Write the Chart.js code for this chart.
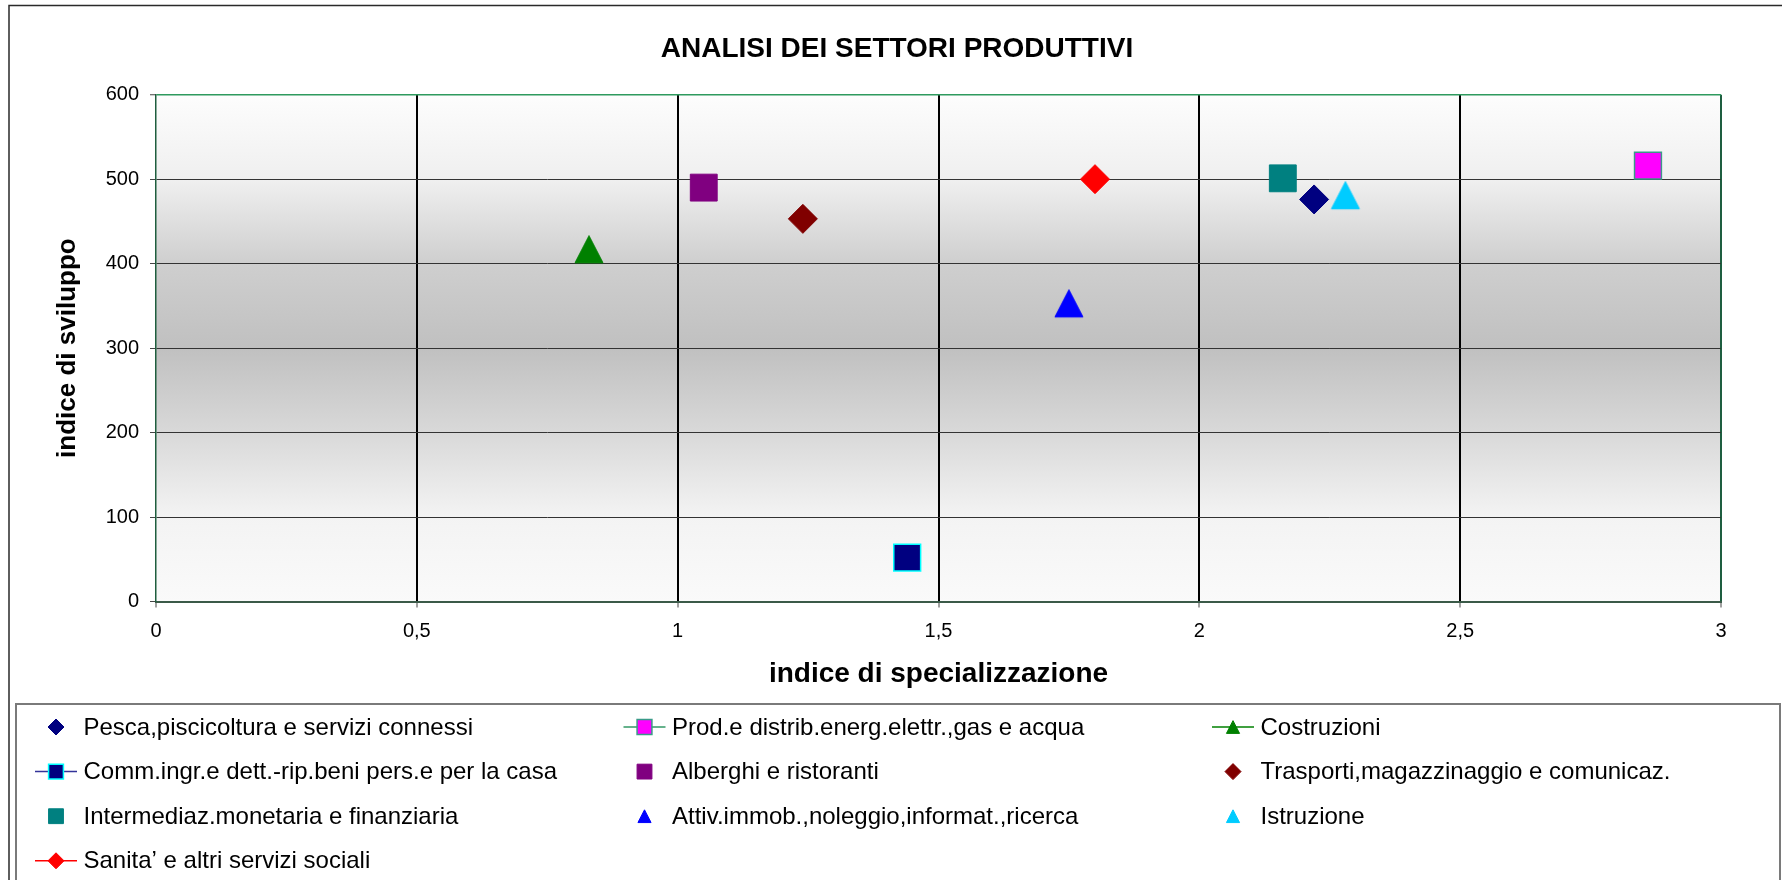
<!DOCTYPE html>
<html><head><meta charset="utf-8">
<script src="https://cdn.jsdelivr.net/npm/chart.js@4/dist/chart.umd.min.js"></script>
<style>html,body{margin:0;padding:0;background:#fff;overflow:hidden}canvas{display:block}</style>
</head><body>
<canvas id="c" width="1782" height="880"></canvas>
<script>
// ---- data ----
const seriesNames = [
  'Pesca,piscicoltura e servizi connessi',
  'Prod.e distrib.energ.elettr.,gas e acqua',
  'Costruzioni',
  'Comm.ingr.e dett.-rip.beni pers.e per la casa',
  'Alberghi e ristoranti',
  'Trasporti,magazzinaggio e comunicaz.',
  'Intermediaz.monetaria e finanziaria',
  'Attiv.immob.,noleggio,informat.,ricerca',
  'Istruzione',
  'Sanita\u2019 e altri servizi sociali'
];
const xValues = [2.22, 2.86, 0.83, 1.44, 1.05, 1.24, 2.16, 1.75, 2.28, 1.80];
const yValues = [476, 516, 417, 52, 490, 453, 501, 353, 481, 500];
const xTickLabels = ['0', '0,5', '1', '1,5', '2', '2,5', '3'];
const yTickLabels = ['0', '100', '200', '300', '400', '500', '600'];
const chartTitle = 'ANALISI DEI SETTORI PRODUTTIVI';
const xAxisTitle = 'indice di specializzazione';
const yAxisTitle = 'indice di sviluppo';

// ---- styles ----
const fillColors = ['#000080', '#ff00ff', '#008000', '#000080', '#800080', '#800000', '#008080', '#0000ff', '#00ccff', '#ff0000'];
const borderColors = ['#000080', '#3a9a88', '#008000', '#00ffff', '#800080', '#800000', '#008080', '#0000ff', '#00ccff', '#ff0000'];
const borderWidths = [1, 1.5, 1, 1.5, 1, 1, 1, 1, 1, 1];
const pointStyles = ['rectRot', 'rect', 'triangle', 'rect', 'rect', 'rectRot', 'rect', 'triangle', 'triangle', 'rectRot'];
const legendLineColors = [null, '#339966', '#008000', '#333399', null, null, null, null, null, '#ff0000'];
const radiusFor = s => s === 'rect' ? 19 : (s === 'rectRot' ? 14.5 : 16);
const legendRadiusFor = s => s === 'rect' ? 10.5 : (s === 'rectRot' ? 8 : 7.5);
const FONT = '"Liberation Sans", Arial, Helvetica, sans-serif';

function drawMarker(ctx, style, r, x, y) {
  ctx.beginPath();
  if (style === 'rect') {
    const s = r * Math.SQRT1_2;
    ctx.rect(x - s, y - s, 2 * s, 2 * s);
  } else if (style === 'rectRot') {
    ctx.moveTo(x - r, y); ctx.lineTo(x, y - r); ctx.lineTo(x + r, y); ctx.lineTo(x, y + r); ctx.closePath();
  } else {
    // triangle centred on its bounding box (as in the original chart)
    const w = r * 0.875, h = r * 0.85;
    ctx.moveTo(x, y - h); ctx.lineTo(x + w, y + h); ctx.lineTo(x - w, y + h); ctx.closePath();
  }
  ctx.fill();
  ctx.stroke();
}

// triangle point image, so that the mark is centred on the value like the original
function triangleImage(fill, stroke, lw, r) {
  const size = Math.ceil(2 * r + 4);
  const cv = document.createElement('canvas');
  cv.width = size; cv.height = size;
  const c = cv.getContext('2d');
  c.fillStyle = fill; c.strokeStyle = stroke; c.lineWidth = lw;
  drawMarker(c, 'triangle', r, size / 2, size / 2);
  return cv;
}

const datasets = seriesNames.map((name, i) => {
  const st = pointStyles[i];
  return {
    label: name,
    data: [{ x: xValues[i], y: yValues[i] }],
    pointStyle: st === 'triangle' ? triangleImage(fillColors[i], borderColors[i], borderWidths[i], radiusFor(st)) : st,
    pointRadius: radiusFor(st),
    pointHoverRadius: radiusFor(st),
    backgroundColor: fillColors[i],
    borderColor: borderColors[i],
    pointBorderWidth: borderWidths[i],
    showLine: false
  };
});

const bgPlugin = {
  id: 'bg',
  beforeDraw(chart) {
    const { ctx, chartArea: a } = chart;
    ctx.save();
    ctx.fillStyle = '#ffffff';
    ctx.fillRect(0, 0, chart.width, chart.height);
    const g = ctx.createLinearGradient(0, a.top, 0, a.bottom);
    g.addColorStop(0, '#fdfdfd');
    g.addColorStop(0.17, '#efefef');
    g.addColorStop(0.33, '#cfcfcf');
    g.addColorStop(0.5, '#c0c0c0');
    g.addColorStop(0.67, '#d9d9d9');
    g.addColorStop(0.83, '#f3f3f3');
    g.addColorStop(1, '#fafafa');
    ctx.fillStyle = g;
    ctx.fillRect(a.left, a.top, a.right - a.left, a.bottom - a.top);
    ctx.restore();
  }
};

const legendPlugin = {
  id: 'gridLegend',
  afterDraw(chart) {
    const ctx = chart.ctx;
    ctx.save();
    // outer frame
    ctx.strokeStyle = '#2a2a2a'; ctx.lineWidth = 1.5;
    ctx.strokeRect(9, 5.5, 1800, 900);
    // legend box
    ctx.strokeStyle = '#7a7a7a'; ctx.lineWidth = 2;
    ctx.strokeRect(16, 704, 1764, 220);
    ctx.font = '24px ' + FONT;
    ctx.textBaseline = 'middle';
    ctx.textAlign = 'left';
    chart.data.datasets.forEach((ds, i) => {
      const col = i % 3, row = Math.floor(i / 3);
      const mx = 56 + col * 588.5, my = 727 + row * 44.6;
      if (legendLineColors[i]) {
        ctx.strokeStyle = legendLineColors[i]; ctx.lineWidth = 1.5;
        ctx.beginPath(); ctx.moveTo(mx - 21, my); ctx.lineTo(mx + 21, my); ctx.stroke();
      }
      ctx.fillStyle = fillColors[i];
      ctx.strokeStyle = borderColors[i];
      ctx.lineWidth = borderWidths[i];
      drawMarker(ctx, pointStyles[i], legendRadiusFor(pointStyles[i]), mx, my);
      ctx.fillStyle = '#000';
      ctx.fillText(ds.label, mx + 27.5, my + 1);
    });
    ctx.restore();
  }
};

new Chart(document.getElementById('c'), {
  type: 'scatter',
  data: { datasets },
  plugins: [bgPlugin, legendPlugin],
  options: {
    responsive: false,
    devicePixelRatio: 1,
    animation: false,
    events: [],
    layout: { padding: { left: 73, right: 61, top: 0, bottom: 191.2 } },
    plugins: {
      legend: { display: false },
      tooltip: { enabled: false },
      title: {
        display: true,
        text: chartTitle,
        color: '#000',
        font: { family: FONT, size: 28, weight: 'bold', lineHeight: 1.2 },
        padding: { top: 32, bottom: 29.1 }
      }
    },
    scales: {
      x: {
        type: 'linear',
        min: 0, max: 3,
        afterFit: s => { s.height = 87.3; },
        ticks: {
          stepSize: 0.5,
          padding: 12,
          color: '#000',
          font: { family: FONT, size: 20, lineHeight: 1.2 },
          callback: (v, i) => xTickLabels[i]
        },
        grid: {
          color: c => (c.tick && c.tick.value === 0) ? 'rgba(0,0,0,0)' : (c.tick && c.tick.value === 3 ? '#1e5e40' : '#000'),
          lineWidth: 2,
          tickLength: 6,
          tickColor: '#444',
          tickWidth: 1
        },
        border: { display: true, color: '#3a5a48', width: 2 },
        title: {
          display: true,
          text: xAxisTitle,
          color: '#000',
          font: { family: FONT, size: 28, weight: 'bold', lineHeight: 1.2 },
          padding: { top: 0, bottom: -2 }
        }
      },
      y: {
        type: 'linear',
        min: 0, max: 600,
        afterFit: s => { s.width = 83; },
        ticks: {
          stepSize: 100,
          padding: 11,
          color: '#000',
          font: { family: FONT, size: 20, lineHeight: 1.2 },
          callback: (v, i) => yTickLabels[i]
        },
        grid: {
          color: c => (c.tick && c.tick.value === 0) ? 'rgba(0,0,0,0)' : (c.tick && c.tick.value === 600 ? '#2e9a5e' : '#333'),
          lineWidth: c => (c.tick && c.tick.value === 600) ? 1.5 : 1,
          tickLength: 6,
          tickColor: '#444',
          tickWidth: 1
        },
        border: { display: true, color: '#1f5e3e', width: 1.5 },
        title: {
          display: true,
          text: yAxisTitle,
          color: '#000',
          font: { family: FONT, size: 26, weight: 'bold', lineHeight: 1.2 },
          padding: { top: -20.6, bottom: 0 }
        }
      }
    }
  }
});
</script>
</body></html>
